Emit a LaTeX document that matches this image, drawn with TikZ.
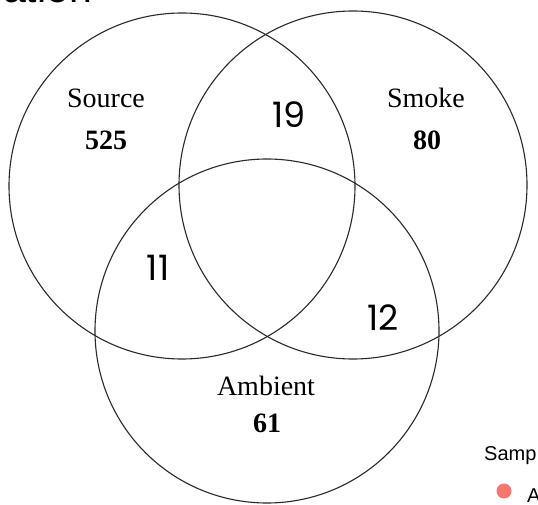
\documentclass[tikz,border=0pt]{standalone}
\usepackage{fontspec}
\setmainfont{Liberation Serif}
\newfontfamily\numfont{Poppins}
\newfontfamily\legfont{Liberation Sans}
\definecolor{ringcol}{HTML}{2A2A2A}
\definecolor{dotcol}{HTML}{F8766D}
\tikzset{
  ring/.style={circle, draw=ringcol, line width=1.1pt, inner sep=0pt},
  setname/.style={anchor=base, inner sep=0pt, font=\fontsize{28}{30}\selectfont},
  setcount/.style={anchor=base, inner sep=0pt, font=\fontsize{28}{30}\selectfont\bfseries},
  overlap/.style={anchor=base, inner sep=0pt, font=\numfont\fontsize{35}{38}\selectfont},
  legtext/.style={anchor=base west, inner sep=0pt, font=\legfont\fontsize{20}{22}\selectfont}
}
\begin{document}
\begin{tikzpicture}[x=1pt,y=-1pt]
\useasboundingbox (0,0) rectangle (538,505);
\clip (0,0) rectangle (538,505);
\fill[white] (0,0) rectangle (538,505);
% circles
\node[ring, minimum size=346pt] (source) at (182,186) {};
\node[ring, minimum size=348pt] (smoke) at (353,185) {};
\node[ring, minimum size=344pt] (ambient) at (267,331) {};
% labels
\node[setname] (srcname) at (106,108) {Source};
\node[setcount] (srcnum) at (106,150) {525};
\node[setname] (smkname) at (426,108) {Smoke};
\node[setcount] (smknum) at (427,150) {80};
\node[setname] (ambname) at (266,395) {Ambient};
\node[setcount] (ambnum) at (267,432) {61};
\node[overlap] (n19) at (289,128) {19};
\node[overlap] (n11) at (158,280) {11};
\node[overlap] (n12) at (383,330) {12};
% clipped title fragment
\node[anchor=base west, inner sep=0pt, font=\legfont\fontsize{41}{42}\selectfont] (title) at (3,3) {ation};
% clipped legend
\node[legtext] (legtitle) at (484,460) {Samp};
\fill[dotcol] (504,491) circle (7.5pt) node (legdot) {};
\node[legtext] (legA) at (527,502) {A};
\end{tikzpicture}
\end{document}
